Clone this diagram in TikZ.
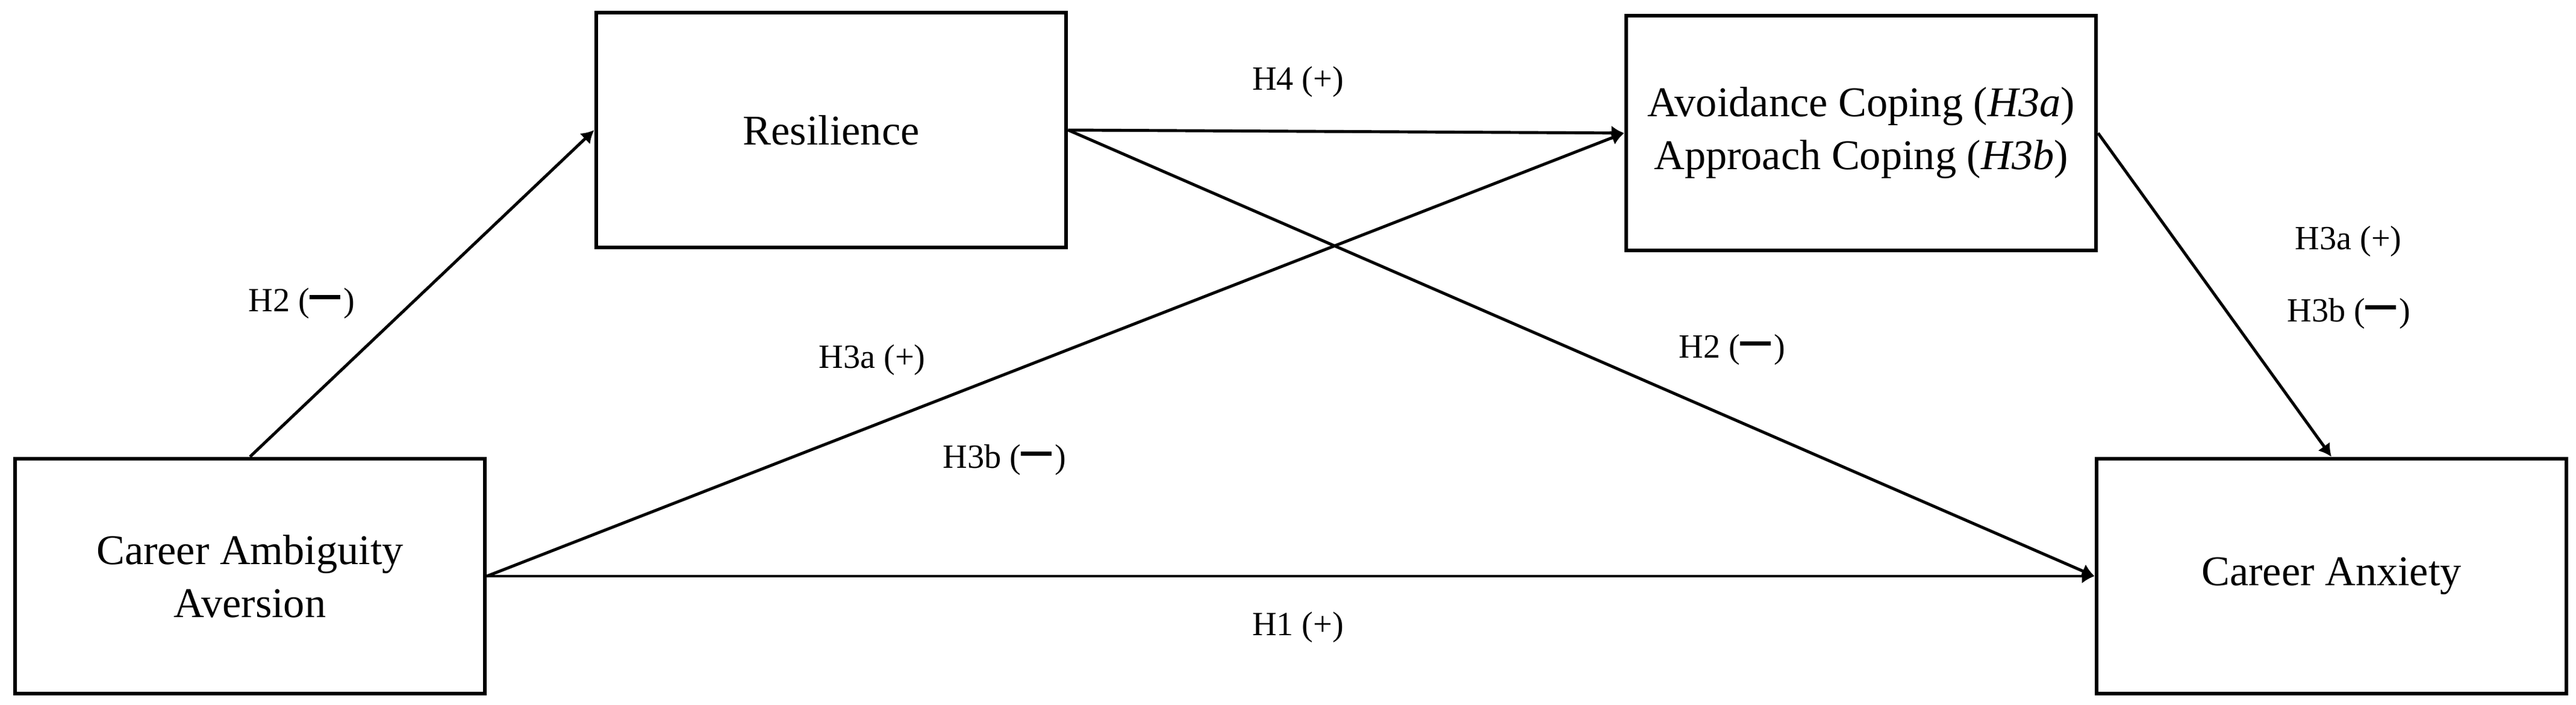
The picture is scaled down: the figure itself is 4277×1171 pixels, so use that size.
\documentclass[tikz,border=0pt]{standalone}
\usepackage{fontspec}
\setmainfont{Liberation Serif}
\usetikzlibrary{arrows.meta}
\newcommand{\negbar}{\rule[0.38em]{0.9em}{0.115em}\kern0.1em}
\begin{document}
\begin{tikzpicture}[x=0.01cm,y=-0.01cm,
  box/.style={draw,line width=1.8pt,minimum width=7.8cm,minimum height=3.9cm,inner sep=0pt,align=center,font=\fontsize{20}{25}\selectfont},
  lab/.style={anchor=base,inner sep=0pt,font=\fontsize{16}{19}\selectfont},
  conn/.style={line width=1.4pt,-{Latex[length=6pt,width=7pt]}}]
\fill[white] (0,0) rectangle (4277,1171);
\useasboundingbox (0,0) rectangle (4277,1171);
\node[box] (caa) at (415,957) {Career Ambiguity\\Aversion};
\node[box] (res) at (1380,216) {Resilience};
\node[box] (cop) at (3090,221) {Avoidance Coping (\textit{H3a})\\Approach Coping (\textit{H3b})};
\node[box] (anx) at (3871,957) {Career Anxiety};
\draw[conn] (caa.north) -- (res.west);
\draw[conn] (caa.east) -- (cop.west);
\draw[conn] (caa.east) -- (anx.west);
\draw[conn] (res.east) -- (cop.west);
\draw[conn] (res.east) -- (anx.west);
\draw[conn] (cop.east) -- (anx.north);
\node[lab] (l1) at (501,518) {H2 (\negbar)};
\node[lab] (l2) at (1448,612) {H3a (+)};
\node[lab] (l3) at (1668,778) {H3b (\negbar)};
\node[lab] (l4) at (2155,150) {H4 (+)};
\node[lab] (l5) at (2155,1056) {H1 (+)};
\node[lab] (l6) at (2876,595) {H2 (\negbar)};
\node[lab] (l7) at (3899,415) {H3a (+)};
\node[lab] (l8) at (3900,535) {H3b (\negbar)};
\end{tikzpicture}
\end{document}
